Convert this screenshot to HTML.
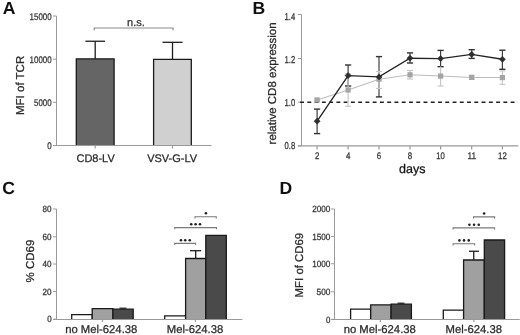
<!DOCTYPE html>
<html><head><meta charset="utf-8"><style>
html,body{margin:0;padding:0;background:#fff;}
body{width:520px;height:335px;overflow:hidden;}
svg{display:block;font-family:"Liberation Sans", sans-serif;will-change:transform;text-rendering:geometricPrecision;}
</style></head><body>
<svg width="520" height="335" viewBox="0 0 520 335">
<rect x="0" y="0" width="520" height="335" fill="#fff"/>
<text x="2.8" y="14.2" font-size="17.6" text-anchor="start" font-weight="bold" fill="#111">A</text>
<line x1="56.5" y1="16" x2="56.5" y2="145.5" stroke="#9a9a9a" stroke-width="1"/>
<line x1="53.3" y1="145.5" x2="211.25" y2="145.5" stroke="#9a9a9a" stroke-width="1"/>
<line x1="53" y1="16" x2="56.5" y2="16" stroke="#9a9a9a" stroke-width="1"/>
<text x="51.6" y="19.6" font-size="9.6" text-anchor="end" font-weight="normal" fill="#3a3a3a" textLength="22" lengthAdjust="spacingAndGlyphs" stroke="#3a3a3a" stroke-width="0.3">15000</text>
<line x1="53" y1="59.2" x2="56.5" y2="59.2" stroke="#9a9a9a" stroke-width="1"/>
<text x="51.6" y="62.800000000000004" font-size="9.6" text-anchor="end" font-weight="normal" fill="#3a3a3a" textLength="22" lengthAdjust="spacingAndGlyphs" stroke="#3a3a3a" stroke-width="0.3">10000</text>
<line x1="53" y1="102.3" x2="56.5" y2="102.3" stroke="#9a9a9a" stroke-width="1"/>
<text x="51.6" y="105.89999999999999" font-size="9.6" text-anchor="end" font-weight="normal" fill="#3a3a3a" textLength="17.6" lengthAdjust="spacingAndGlyphs" stroke="#3a3a3a" stroke-width="0.3">5000</text>
<line x1="53" y1="145.5" x2="56.5" y2="145.5" stroke="#9a9a9a" stroke-width="1"/>
<text x="51.6" y="149.1" font-size="9.6" text-anchor="end" font-weight="normal" fill="#3a3a3a" textLength="4.4" lengthAdjust="spacingAndGlyphs" stroke="#3a3a3a" stroke-width="0.3">0</text>
<line x1="95.2" y1="145.5" x2="95.2" y2="148.5" stroke="#9a9a9a" stroke-width="1.2"/>
<line x1="172.5" y1="145.5" x2="172.5" y2="148.5" stroke="#9a9a9a" stroke-width="1.2"/>
<rect x="76.3" y="58.9" width="37.80" height="86.60" fill="#656565"/>
<path d="M76.3,145.5 V58.9 H114.1 V145.5" fill="none" stroke="#1a1a1a" stroke-width="1.3"/>
<rect x="153.6" y="59.4" width="37.70" height="86.10" fill="#d0d0d0"/>
<path d="M153.6,145.5 V59.4 H191.3 V145.5" fill="none" stroke="#1a1a1a" stroke-width="1.3"/>
<line x1="53.3" y1="145.5" x2="211.25" y2="145.5" stroke="#9a9a9a" stroke-width="1"/>
<line x1="95.2" y1="41.25" x2="95.2" y2="58.9" stroke="#1e1e1e" stroke-width="1.3"/>
<line x1="85.4" y1="41.25" x2="105" y2="41.25" stroke="#1e1e1e" stroke-width="1.3"/>
<line x1="172.5" y1="42.3" x2="172.5" y2="59.4" stroke="#1e1e1e" stroke-width="1.3"/>
<line x1="162.5" y1="42.3" x2="182.5" y2="42.3" stroke="#1e1e1e" stroke-width="1.3"/>
<path d="M94.25,30.2 V28 H173 V30.2" fill="none" stroke="#8a8a8a" stroke-width="1.2"/>
<text x="135.9" y="26.2" font-size="11" text-anchor="middle" font-weight="normal" fill="#333" stroke="#333" stroke-width="0.25">n.s.</text>
<text x="95.6" y="162.4" font-size="11" text-anchor="middle" font-weight="normal" fill="#2a2a2a" stroke="#2a2a2a" stroke-width="0.25">CD8-LV</text>
<text x="172.1" y="162.4" font-size="11" text-anchor="middle" font-weight="normal" fill="#2a2a2a" stroke="#2a2a2a" stroke-width="0.25">VSV-G-LV</text>
<text transform="translate(23.7,85.4) rotate(-90)" x="0" y="0" font-size="11.5" text-anchor="middle" fill="#2a2a2a" stroke="#2a2a2a" stroke-width="0.25">MFI of TCR</text>
<text x="252.4" y="13.9" font-size="17.6" text-anchor="start" font-weight="bold" fill="#111">B</text>
<line x1="301.5" y1="14.5" x2="301.5" y2="145.9" stroke="#9a9a9a" stroke-width="1"/>
<line x1="297.8" y1="145.9" x2="518.2" y2="145.9" stroke="#9a9a9a" stroke-width="1.2"/>
<line x1="297.9" y1="14.5" x2="301.5" y2="14.5" stroke="#9a9a9a" stroke-width="1"/>
<text x="295.2" y="19.6" font-size="10" text-anchor="end" font-weight="normal" fill="#3a3a3a" textLength="10.6" lengthAdjust="spacingAndGlyphs" stroke="#3a3a3a" stroke-width="0.3">1.4</text>
<line x1="297.9" y1="58.5" x2="301.5" y2="58.5" stroke="#9a9a9a" stroke-width="1"/>
<text x="295.2" y="62.8" font-size="10" text-anchor="end" font-weight="normal" fill="#3a3a3a" textLength="10.6" lengthAdjust="spacingAndGlyphs" stroke="#3a3a3a" stroke-width="0.3">1.2</text>
<line x1="297.9" y1="102.2" x2="301.5" y2="102.2" stroke="#9a9a9a" stroke-width="1"/>
<text x="295.2" y="105.7" font-size="10" text-anchor="end" font-weight="normal" fill="#3a3a3a" textLength="10.6" lengthAdjust="spacingAndGlyphs" stroke="#3a3a3a" stroke-width="0.3">1.0</text>
<line x1="297.9" y1="145.9" x2="301.5" y2="145.9" stroke="#9a9a9a" stroke-width="1"/>
<text x="295.2" y="148.7" font-size="10" text-anchor="end" font-weight="normal" fill="#3a3a3a" textLength="10.6" lengthAdjust="spacingAndGlyphs" stroke="#3a3a3a" stroke-width="0.3">0.8</text>
<line x1="317.1" y1="145.9" x2="317.1" y2="149.5" stroke="#9a9a9a" stroke-width="1.2"/>
<text x="317.1" y="158.75" font-size="9.5" text-anchor="middle" font-weight="normal" fill="#3a3a3a" textLength="4.4" lengthAdjust="spacingAndGlyphs" stroke="#3a3a3a" stroke-width="0.3">2</text>
<line x1="348.1" y1="145.9" x2="348.1" y2="149.5" stroke="#9a9a9a" stroke-width="1.2"/>
<text x="348.1" y="158.75" font-size="9.5" text-anchor="middle" font-weight="normal" fill="#3a3a3a" textLength="4.4" lengthAdjust="spacingAndGlyphs" stroke="#3a3a3a" stroke-width="0.3">4</text>
<line x1="379" y1="145.9" x2="379" y2="149.5" stroke="#9a9a9a" stroke-width="1.2"/>
<text x="379" y="158.75" font-size="9.5" text-anchor="middle" font-weight="normal" fill="#3a3a3a" textLength="4.4" lengthAdjust="spacingAndGlyphs" stroke="#3a3a3a" stroke-width="0.3">6</text>
<line x1="410" y1="145.9" x2="410" y2="149.5" stroke="#9a9a9a" stroke-width="1.2"/>
<text x="410" y="158.75" font-size="9.5" text-anchor="middle" font-weight="normal" fill="#3a3a3a" textLength="4.4" lengthAdjust="spacingAndGlyphs" stroke="#3a3a3a" stroke-width="0.3">8</text>
<line x1="440.6" y1="145.9" x2="440.6" y2="149.5" stroke="#9a9a9a" stroke-width="1.2"/>
<text x="440.6" y="158.75" font-size="9.5" text-anchor="middle" font-weight="normal" fill="#3a3a3a" textLength="8.6" lengthAdjust="spacingAndGlyphs" stroke="#3a3a3a" stroke-width="0.3">10</text>
<line x1="471.7" y1="145.9" x2="471.7" y2="149.5" stroke="#9a9a9a" stroke-width="1.2"/>
<text x="471.7" y="158.75" font-size="9.5" text-anchor="middle" font-weight="normal" fill="#3a3a3a" textLength="8.6" lengthAdjust="spacingAndGlyphs" stroke="#3a3a3a" stroke-width="0.3">11</text>
<line x1="502.4" y1="145.9" x2="502.4" y2="149.5" stroke="#9a9a9a" stroke-width="1.2"/>
<text x="502.4" y="158.75" font-size="9.5" text-anchor="middle" font-weight="normal" fill="#3a3a3a" textLength="8.6" lengthAdjust="spacingAndGlyphs" stroke="#3a3a3a" stroke-width="0.3">12</text>
<text x="412.2" y="172.5" font-size="12.5" text-anchor="middle" font-weight="normal" fill="#111" stroke="#111" stroke-width="0.25">days</text>
<text transform="translate(275.5,83.4) rotate(-90)" x="0" y="0" font-size="11.5" text-anchor="middle" fill="#2a2a2a" stroke="#2a2a2a" stroke-width="0.25">relative CD8 expression</text>
<line x1="300.1" y1="102.2" x2="518" y2="102.2" stroke="#222" stroke-width="1.5" stroke-dasharray="3.9,3.36"/>
<line x1="317.1" y1="109.1" x2="317.1" y2="133.6" stroke="#404040" stroke-width="1.2"/>
<line x1="314.0" y1="109.1" x2="320.20000000000005" y2="109.1" stroke="#333" stroke-width="1.4"/>
<line x1="314.0" y1="133.6" x2="320.20000000000005" y2="133.6" stroke="#333" stroke-width="1.4"/>
<line x1="348.1" y1="65" x2="348.1" y2="86" stroke="#404040" stroke-width="1.2"/>
<line x1="345.0" y1="65" x2="351.20000000000005" y2="65" stroke="#333" stroke-width="1.4"/>
<line x1="345.0" y1="86" x2="351.20000000000005" y2="86" stroke="#333" stroke-width="1.4"/>
<line x1="379" y1="56.6" x2="379" y2="96.9" stroke="#404040" stroke-width="1.2"/>
<line x1="375.9" y1="56.6" x2="382.1" y2="56.6" stroke="#333" stroke-width="1.4"/>
<line x1="375.9" y1="96.9" x2="382.1" y2="96.9" stroke="#333" stroke-width="1.4"/>
<line x1="410" y1="52.9" x2="410" y2="63" stroke="#404040" stroke-width="1.2"/>
<line x1="406.9" y1="52.9" x2="413.1" y2="52.9" stroke="#333" stroke-width="1.4"/>
<line x1="406.9" y1="63" x2="413.1" y2="63" stroke="#333" stroke-width="1.4"/>
<line x1="440.6" y1="50.4" x2="440.6" y2="66.7" stroke="#404040" stroke-width="1.2"/>
<line x1="437.5" y1="50.4" x2="443.70000000000005" y2="50.4" stroke="#333" stroke-width="1.4"/>
<line x1="437.5" y1="66.7" x2="443.70000000000005" y2="66.7" stroke="#333" stroke-width="1.4"/>
<line x1="471.7" y1="49.7" x2="471.7" y2="58.4" stroke="#404040" stroke-width="1.2"/>
<line x1="468.59999999999997" y1="49.7" x2="474.8" y2="49.7" stroke="#333" stroke-width="1.4"/>
<line x1="468.59999999999997" y1="58.4" x2="474.8" y2="58.4" stroke="#333" stroke-width="1.4"/>
<line x1="502.4" y1="50.2" x2="502.4" y2="69.3" stroke="#404040" stroke-width="1.2"/>
<line x1="499.29999999999995" y1="50.2" x2="505.5" y2="50.2" stroke="#333" stroke-width="1.4"/>
<line x1="499.29999999999995" y1="69.3" x2="505.5" y2="69.3" stroke="#333" stroke-width="1.4"/>
<line x1="317.1" y1="99" x2="317.1" y2="101" stroke="#c8c8c8" stroke-width="1.2"/>
<line x1="314.1" y1="101" x2="320.1" y2="101" stroke="#c8c8c8" stroke-width="1.2"/>
<line x1="314.1" y1="99" x2="320.1" y2="99" stroke="#c8c8c8" stroke-width="1.2"/>
<line x1="348.1" y1="73.75" x2="348.1" y2="106.25" stroke="#c8c8c8" stroke-width="1.2"/>
<line x1="345.1" y1="106.25" x2="351.1" y2="106.25" stroke="#c8c8c8" stroke-width="1.2"/>
<line x1="345.1" y1="73.75" x2="351.1" y2="73.75" stroke="#c8c8c8" stroke-width="1.2"/>
<line x1="379" y1="71.5" x2="379" y2="88.5" stroke="#c8c8c8" stroke-width="1.2"/>
<line x1="376" y1="88.5" x2="382" y2="88.5" stroke="#c8c8c8" stroke-width="1.2"/>
<line x1="376" y1="71.5" x2="382" y2="71.5" stroke="#c8c8c8" stroke-width="1.2"/>
<line x1="410" y1="70.5" x2="410" y2="79" stroke="#c8c8c8" stroke-width="1.2"/>
<line x1="407" y1="79" x2="413" y2="79" stroke="#c8c8c8" stroke-width="1.2"/>
<line x1="407" y1="70.5" x2="413" y2="70.5" stroke="#c8c8c8" stroke-width="1.2"/>
<line x1="440.6" y1="66.4" x2="440.6" y2="86" stroke="#c8c8c8" stroke-width="1.2"/>
<line x1="437.6" y1="86" x2="443.6" y2="86" stroke="#c8c8c8" stroke-width="1.2"/>
<line x1="471.7" y1="75.4" x2="471.7" y2="79.4" stroke="#c8c8c8" stroke-width="1.2"/>
<line x1="468.7" y1="79.4" x2="474.7" y2="79.4" stroke="#c8c8c8" stroke-width="1.2"/>
<line x1="468.7" y1="75.4" x2="474.7" y2="75.4" stroke="#c8c8c8" stroke-width="1.2"/>
<line x1="502.4" y1="70.9" x2="502.4" y2="84.3" stroke="#c8c8c8" stroke-width="1.2"/>
<line x1="499.4" y1="84.3" x2="505.4" y2="84.3" stroke="#c8c8c8" stroke-width="1.2"/>
<line x1="499.4" y1="70.9" x2="505.4" y2="70.9" stroke="#c8c8c8" stroke-width="1.2"/>
<polyline points="317.1,100 348.1,90 379,79.2 410,74.8 440.6,76.1 471.7,77.4 502.4,77.6" fill="none" stroke="#bdbdbd" stroke-width="1.05"/>
<polyline points="317.1,121.2 348.1,75.6 379,76.9 410,58.2 440.6,58.6 471.7,54.4 502.4,59.3" fill="none" stroke="#262626" stroke-width="1.4"/>
<rect x="314.5" y="97.4" width="5.2" height="5.2" fill="#a4a4a4"/>
<rect x="345.5" y="87.4" width="5.2" height="5.2" fill="#a4a4a4"/>
<rect x="376.4" y="76.60000000000001" width="5.2" height="5.2" fill="#a4a4a4"/>
<rect x="407.4" y="72.2" width="5.2" height="5.2" fill="#a4a4a4"/>
<rect x="438.0" y="73.5" width="5.2" height="5.2" fill="#a4a4a4"/>
<rect x="469.09999999999997" y="74.80000000000001" width="5.2" height="5.2" fill="#a4a4a4"/>
<rect x="499.79999999999995" y="75.0" width="5.2" height="5.2" fill="#a4a4a4"/>
<path d="M317.1,118.10000000000001 L320.20000000000005,121.2 L317.1,124.3 L314.0,121.2 Z" fill="#2e2e2e" stroke="#2e2e2e" stroke-width="0.5" stroke-linejoin="round"/>
<path d="M348.1,72.5 L351.20000000000005,75.6 L348.1,78.69999999999999 L345.0,75.6 Z" fill="#2e2e2e" stroke="#2e2e2e" stroke-width="0.5" stroke-linejoin="round"/>
<path d="M379,73.80000000000001 L382.1,76.9 L379,80.0 L375.9,76.9 Z" fill="#2e2e2e" stroke="#2e2e2e" stroke-width="0.5" stroke-linejoin="round"/>
<path d="M410,55.1 L413.1,58.2 L410,61.300000000000004 L406.9,58.2 Z" fill="#2e2e2e" stroke="#2e2e2e" stroke-width="0.5" stroke-linejoin="round"/>
<path d="M440.6,55.5 L443.70000000000005,58.6 L440.6,61.7 L437.5,58.6 Z" fill="#2e2e2e" stroke="#2e2e2e" stroke-width="0.5" stroke-linejoin="round"/>
<path d="M471.7,51.3 L474.8,54.4 L471.7,57.5 L468.59999999999997,54.4 Z" fill="#2e2e2e" stroke="#2e2e2e" stroke-width="0.5" stroke-linejoin="round"/>
<path d="M502.4,56.199999999999996 L505.5,59.3 L502.4,62.4 L499.29999999999995,59.3 Z" fill="#2e2e2e" stroke="#2e2e2e" stroke-width="0.5" stroke-linejoin="round"/>
<text x="2.2" y="194.3" font-size="17.6" text-anchor="start" font-weight="bold" fill="#111">C</text>
<line x1="56.5" y1="209" x2="56.5" y2="319.5" stroke="#9a9a9a" stroke-width="1"/>
<line x1="53.3" y1="319.5" x2="242.3" y2="319.5" stroke="#9a9a9a" stroke-width="1"/>
<line x1="53" y1="209" x2="56.5" y2="209" stroke="#9a9a9a" stroke-width="1"/>
<text x="51.6" y="212.2" font-size="9" text-anchor="end" font-weight="normal" fill="#3a3a3a" textLength="9.0" lengthAdjust="spacingAndGlyphs" stroke="#3a3a3a" stroke-width="0.3">80</text>
<line x1="53" y1="236.8" x2="56.5" y2="236.8" stroke="#9a9a9a" stroke-width="1"/>
<text x="51.6" y="240.0" font-size="9" text-anchor="end" font-weight="normal" fill="#3a3a3a" textLength="9.0" lengthAdjust="spacingAndGlyphs" stroke="#3a3a3a" stroke-width="0.3">60</text>
<line x1="53" y1="264.0" x2="56.5" y2="264.0" stroke="#9a9a9a" stroke-width="1"/>
<text x="51.6" y="267.2" font-size="9" text-anchor="end" font-weight="normal" fill="#3a3a3a" textLength="9.0" lengthAdjust="spacingAndGlyphs" stroke="#3a3a3a" stroke-width="0.3">40</text>
<line x1="53" y1="291.6" x2="56.5" y2="291.6" stroke="#9a9a9a" stroke-width="1"/>
<text x="51.6" y="294.8" font-size="9" text-anchor="end" font-weight="normal" fill="#3a3a3a" textLength="9.0" lengthAdjust="spacingAndGlyphs" stroke="#3a3a3a" stroke-width="0.3">20</text>
<line x1="53" y1="319.2" x2="56.5" y2="319.2" stroke="#9a9a9a" stroke-width="1"/>
<text x="51.6" y="322.4" font-size="9" text-anchor="end" font-weight="normal" fill="#3a3a3a" textLength="4.4" lengthAdjust="spacingAndGlyphs" stroke="#3a3a3a" stroke-width="0.3">0</text>
<line x1="102.5" y1="319.2" x2="102.5" y2="322" stroke="#9a9a9a" stroke-width="1.2"/>
<line x1="195.4" y1="319.2" x2="195.4" y2="322" stroke="#9a9a9a" stroke-width="1.2"/>
<rect x="71.7" y="314.6" width="20.50" height="4.90" fill="#ffffff"/>
<path d="M71.7,319.5 V314.6 H92.2 V319.5" fill="none" stroke="#1a1a1a" stroke-width="1.3"/>
<rect x="92.2" y="308.6" width="20.70" height="10.90" fill="#a0a0a0"/>
<path d="M92.2,319.5 V308.6 H112.9 V319.5" fill="none" stroke="#1a1a1a" stroke-width="1.3"/>
<rect x="112.9" y="309.2" width="20.30" height="10.30" fill="#4a4a4a"/>
<path d="M112.9,319.5 V309.2 H133.2 V319.5" fill="none" stroke="#1a1a1a" stroke-width="1.3"/>
<rect x="164.7" y="315.9" width="20.90" height="3.60" fill="#ffffff"/>
<path d="M164.7,319.5 V315.9 H185.6 V319.5" fill="none" stroke="#1a1a1a" stroke-width="1.3"/>
<rect x="185.6" y="258.5" width="20.20" height="61.00" fill="#a0a0a0"/>
<path d="M185.6,319.5 V258.5 H205.8 V319.5" fill="none" stroke="#1a1a1a" stroke-width="1.3"/>
<rect x="205.8" y="235.4" width="20.50" height="84.10" fill="#4a4a4a"/>
<path d="M205.8,319.5 V235.4 H226.3 V319.5" fill="none" stroke="#1a1a1a" stroke-width="1.3"/>
<line x1="53.3" y1="319.5" x2="242.3" y2="319.5" stroke="#9a9a9a" stroke-width="1"/>
<line x1="195.7" y1="250.7" x2="195.7" y2="258.6" stroke="#1e1e1e" stroke-width="1.3"/>
<line x1="190" y1="250.7" x2="201.2" y2="250.7" stroke="#1e1e1e" stroke-width="1.3"/>
<line x1="123" y1="308.2" x2="123" y2="309.2" stroke="#1e1e1e" stroke-width="1.2"/>
<line x1="119.5" y1="308.2" x2="126.5" y2="308.2" stroke="#1e1e1e" stroke-width="1.2"/>
<path d="M195,218.4 V216.75 H216.25 V218.4" fill="none" stroke="#7a7a7a" stroke-width="1.1"/>
<path d="M174.75,229.3 V227.6 H216.5 V229.3" fill="none" stroke="#7a7a7a" stroke-width="1.1"/>
<path d="M174.75,245.1 V243.4 H195.6 V245.1" fill="none" stroke="#7a7a7a" stroke-width="1.1"/>
<circle cx="205.9" cy="213.25" r="1.3" fill="#222"/>
<circle cx="191.25" cy="224.25" r="1.3" fill="#222"/>
<circle cx="195.6" cy="224.25" r="1.3" fill="#222"/>
<circle cx="200" cy="224.25" r="1.3" fill="#222"/>
<circle cx="181" cy="240.25" r="1.3" fill="#222"/>
<circle cx="185.25" cy="240.25" r="1.3" fill="#222"/>
<circle cx="189.75" cy="240.25" r="1.3" fill="#222"/>
<text x="101.25" y="333.0" font-size="11.3" text-anchor="middle" font-weight="normal" fill="#2a2a2a" stroke="#2a2a2a" stroke-width="0.25">no Mel-624.38</text>
<text x="195.05" y="333.0" font-size="11.3" text-anchor="middle" font-weight="normal" fill="#2a2a2a" stroke="#2a2a2a" stroke-width="0.25">Mel-624.38</text>
<text transform="translate(33.7,261.1) rotate(-90)" x="0" y="0" font-size="11.5" text-anchor="middle" fill="#2a2a2a" stroke="#2a2a2a" stroke-width="0.25">% CD69</text>
<text x="279.6" y="194.3" font-size="17.6" text-anchor="start" font-weight="bold" fill="#111">D</text>
<line x1="334.5" y1="209" x2="334.5" y2="319.5" stroke="#9a9a9a" stroke-width="1"/>
<line x1="331.5" y1="319.5" x2="519.5" y2="319.5" stroke="#9a9a9a" stroke-width="1"/>
<line x1="331" y1="209" x2="334.5" y2="209" stroke="#9a9a9a" stroke-width="1"/>
<text x="330.4" y="212.2" font-size="9" text-anchor="end" font-weight="normal" fill="#3a3a3a" textLength="18.2" lengthAdjust="spacingAndGlyphs" stroke="#3a3a3a" stroke-width="0.3">2000</text>
<line x1="331" y1="236.4" x2="334.5" y2="236.4" stroke="#9a9a9a" stroke-width="1"/>
<text x="330.4" y="239.6" font-size="9" text-anchor="end" font-weight="normal" fill="#3a3a3a" textLength="18.2" lengthAdjust="spacingAndGlyphs" stroke="#3a3a3a" stroke-width="0.3">1500</text>
<line x1="331" y1="263.75" x2="334.5" y2="263.75" stroke="#9a9a9a" stroke-width="1"/>
<text x="330.4" y="266.95" font-size="9" text-anchor="end" font-weight="normal" fill="#3a3a3a" textLength="18.2" lengthAdjust="spacingAndGlyphs" stroke="#3a3a3a" stroke-width="0.3">1000</text>
<line x1="331" y1="291.8" x2="334.5" y2="291.8" stroke="#9a9a9a" stroke-width="1"/>
<text x="330.4" y="295.0" font-size="9" text-anchor="end" font-weight="normal" fill="#3a3a3a" textLength="13.9" lengthAdjust="spacingAndGlyphs" stroke="#3a3a3a" stroke-width="0.3">500</text>
<line x1="331" y1="319.4" x2="334.5" y2="319.4" stroke="#9a9a9a" stroke-width="1"/>
<text x="330.4" y="322.59999999999997" font-size="9" text-anchor="end" font-weight="normal" fill="#3a3a3a" textLength="4.4" lengthAdjust="spacingAndGlyphs" stroke="#3a3a3a" stroke-width="0.3">0</text>
<line x1="380.3" y1="319.4" x2="380.3" y2="322" stroke="#9a9a9a" stroke-width="1.2"/>
<line x1="473.9" y1="319.4" x2="473.9" y2="322" stroke="#9a9a9a" stroke-width="1.2"/>
<rect x="350.6" y="309.1" width="20.10" height="10.40" fill="#ffffff"/>
<path d="M350.6,319.5 V309.1 H370.7 V319.5" fill="none" stroke="#1a1a1a" stroke-width="1.3"/>
<rect x="370.7" y="304.8" width="20.40" height="14.70" fill="#a0a0a0"/>
<path d="M370.7,319.5 V304.8 H391.1 V319.5" fill="none" stroke="#1a1a1a" stroke-width="1.3"/>
<rect x="391.1" y="304.2" width="20.30" height="15.30" fill="#4a4a4a"/>
<path d="M391.1,319.5 V304.2 H411.4 V319.5" fill="none" stroke="#1a1a1a" stroke-width="1.3"/>
<line x1="401" y1="303.2" x2="401" y2="304.2" stroke="#1e1e1e" stroke-width="1.2"/>
<line x1="397.5" y1="303.2" x2="404.5" y2="303.2" stroke="#1e1e1e" stroke-width="1.2"/>
<rect x="443.3" y="310.2" width="20.30" height="9.30" fill="#ffffff"/>
<path d="M443.3,319.5 V310.2 H463.6 V319.5" fill="none" stroke="#1a1a1a" stroke-width="1.3"/>
<rect x="463.6" y="260.0" width="20.70" height="59.50" fill="#a0a0a0"/>
<path d="M463.6,319.5 V260.0 H484.3 V319.5" fill="none" stroke="#1a1a1a" stroke-width="1.3"/>
<rect x="484.3" y="240.0" width="20.30" height="79.50" fill="#4a4a4a"/>
<path d="M484.3,319.5 V240.0 H504.6 V319.5" fill="none" stroke="#1a1a1a" stroke-width="1.3"/>
<line x1="331.5" y1="319.5" x2="519.5" y2="319.5" stroke="#9a9a9a" stroke-width="1"/>
<line x1="473.75" y1="251.25" x2="473.75" y2="260.0" stroke="#1e1e1e" stroke-width="1.3"/>
<line x1="469" y1="251.25" x2="479" y2="251.25" stroke="#1e1e1e" stroke-width="1.3"/>
<path d="M473.5,218.5 V216.9 H494.6 V218.5" fill="none" stroke="#7a7a7a" stroke-width="1.1"/>
<path d="M453.1,229.5 V227.9 H494.6 V229.5" fill="none" stroke="#7a7a7a" stroke-width="1.1"/>
<path d="M453.1,245.4 V243.75 H474.6 V245.4" fill="none" stroke="#7a7a7a" stroke-width="1.1"/>
<circle cx="484.1" cy="213.5" r="1.3" fill="#222"/>
<circle cx="469.4" cy="224.75" r="1.3" fill="#222"/>
<circle cx="474.1" cy="224.75" r="1.3" fill="#222"/>
<circle cx="478.75" cy="224.75" r="1.3" fill="#222"/>
<circle cx="459.4" cy="240.4" r="1.3" fill="#222"/>
<circle cx="464" cy="240.4" r="1.3" fill="#222"/>
<circle cx="468.75" cy="240.4" r="1.3" fill="#222"/>
<text x="379.75" y="333.0" font-size="11.3" text-anchor="middle" font-weight="normal" fill="#2a2a2a" stroke="#2a2a2a" stroke-width="0.25">no Mel-624.38</text>
<text x="473.8" y="333.0" font-size="11.3" text-anchor="middle" font-weight="normal" fill="#2a2a2a" stroke="#2a2a2a" stroke-width="0.25">Mel-624.38</text>
<text transform="translate(303.4,265.1) rotate(-90)" x="0" y="0" font-size="11.4" text-anchor="middle" fill="#2a2a2a" stroke="#2a2a2a" stroke-width="0.25">MFI of CD69</text>
</svg>
</body></html>
